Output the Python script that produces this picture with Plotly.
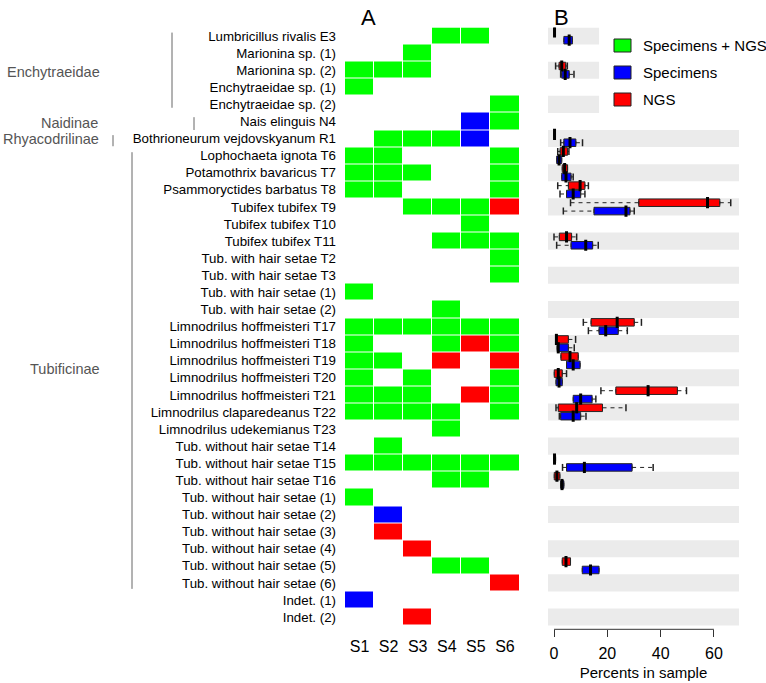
import plotly.graph_objects as go

W, H = 766, 683
FONT = "Liberation Sans, Arial, sans-serif"

# ---------------- data ----------------
row_labels = [
    "Lumbricillus rivalis E3", "Marionina sp. (1)", "Marionina sp. (2)",
    "Enchytraeidae sp. (1)", "Enchytraeidae sp. (2)", "Nais elinguis N4",
    "Bothrioneurum vejdovskyanum R1", "Lophochaeta ignota T6",
    "Potamothrix bavaricus T7", "Psammoryctides barbatus T8",
    "Tubifex tubifex T9", "Tubifex tubifex T10", "Tubifex tubifex T11",
    "Tub. with hair setae T2", "Tub. with hair setae T3",
    "Tub. with hair setae (1)", "Tub. with hair setae (2)",
    "Limnodrilus hoffmeisteri T17", "Limnodrilus hoffmeisteri T18",
    "Limnodrilus hoffmeisteri T19", "Limnodrilus hoffmeisteri T20",
    "Limnodrilus hoffmeisteri T21", "Limnodrilus claparedeanus T22",
    "Limnodrilus udekemianus T23", "Tub. without hair setae T14",
    "Tub. without hair setae T15", "Tub. without hair setae T16",
    "Tub. without hair setae (1)", "Tub. without hair setae (2)",
    "Tub. without hair setae (3)", "Tub. without hair setae (4)",
    "Tub. without hair setae (5)", "Tub. without hair setae (6)",
    "Indet. (1)", "Indet. (2)",
]
samples = ["S1", "S2", "S3", "S4", "S5", "S6"]

# '.' absent, 'G' specimens + NGS, 'B' specimens only, 'R' NGS only
presence = [
    "...GG.", "..G...", "GGG...", "G.....", ".....G", "....BG", ".GGGB.",
    "GG...G", "GGG..G", "GG...G", "..GGGR", "....G.", "...GGG", ".....G",
    ".....G", "G.....", "...G..", "GGGGGG", "G..GRG", "GG.R.R", "G.G..G",
    "GGG.RG", "GGGG.G", "...G..", ".G....", "GGGGGG", "...GG.", "G.....",
    ".B....", ".R....", "..R...", "...GG.", ".....R", "B.....", "..R...",
]

# Panel B: NGS percentages (box stats per row)
ngs_rows = [0, 2, 6, 7, 8, 9, 10, 12, 17, 18, 19, 20, 21, 22, 25, 26, 31]
ngs_low  = [0.0, 0.6, 0.0, 1.4, 3.1, 1.4, 6.2, 0.0, 11.0, 0.6, 2.6, 0.1, 17.6, 0.75, 0.0, 0.1, 3.1]
ngs_q1   = [0.0, 1.9, 0.0, 2.3, 3.1, 5.4, 31.8, 2.0, 13.9, 0.6, 2.6, 0.1, 23.2, 1.6, 0.0, 0.1, 3.1]
ngs_med  = [0.2, 2.9, 0.2, 3.5, 4.0, 9.8, 57.6, 4.7, 23.7, 0.9, 6.0, 1.6, 35.3, 8.5, 0.2, 1.1, 4.5]
ngs_q3   = [0.5, 4.4, 0.5, 5.1, 5.1, 11.6, 62.2, 6.6, 30.1, 5.4, 9.1, 3.1, 46.3, 18.2, 0.6, 2.2, 6.2]
ngs_high = [0.5, 5.0, 0.5, 5.6, 5.1, 12.9, 66.3, 8.5, 32.8, 8.1, 9.1, 4.7, 49.7, 27.0, 0.6, 2.2, 6.2]

# Panel B: Specimen percentages (box stats per row)
spe_rows = [0, 2, 6, 7, 8, 9, 10, 12, 17, 18, 19, 20, 21, 22, 25, 26, 31]
spe_low  = [3.7, 2.5, 2.5, 1.0, 2.9, 2.25, 3.5, 1.0, 12.9, 1.2, 4.7, 0.75, 7.2, 2.0, 3.2, 2.5, 10.6]
spe_q1   = [3.7, 2.9, 3.7, 1.0, 2.9, 4.7, 15.0, 6.4, 16.9, 1.2, 4.7, 0.75, 7.2, 2.5, 4.7, 2.5, 10.6]
spe_med  = [5.7, 4.2, 6.0, 1.9, 4.5, 7.2, 27.0, 11.9, 19.4, 1.6, 7.2, 1.9, 10.0, 7.2, 11.4, 3.0, 13.7]
spe_q3   = [6.9, 5.7, 8.2, 2.9, 6.4, 10.0, 28.5, 14.5, 24.1, 5.4, 9.8, 3.1, 14.3, 10.0, 29.3, 3.7, 16.9]
spe_high = [6.9, 7.5, 10.7, 2.9, 7.2, 11.6, 30.1, 16.6, 27.5, 7.6, 9.8, 3.1, 15.7, 12.0, 37.2, 3.7, 16.9]

x_ticks = [0, 20, 40, 60]

groups = ["Enchytraeidae", "Naidinae", "Rhyacodrilinae", "Tubificinae"]
group_label_row = [2.1, 5.1, 6.0, 19.5]
group_line_start = [-0.2, 4.75, 5.8, 6.8]
group_line_end = [4.2, 5.5, 6.45, 32.35]

legend_names = ["Specimens + NGS", "Specimens", "NGS"]
legend_colors = ["#00FF00", "#0000FF", "#FF0000"]

# ---------------- geometry helpers ----------------
ROW0, ROWH = 36.0, 17.09
def py(p):  # pixel y -> paper
    return 1 - p / H
def px(p):
    return p / W

n = len(row_labels)
y_top = ROW0 - ROWH / 2
y_bot = ROW0 + (n - 0.5) * ROWH
y_bot2 = 629.3
extra = (y_bot2 - y_bot) / ROWH

code = {".": None, "G": 1, "B": 2, "R": 3}
z = [[code[c] for c in r] for r in presence]

fig = go.Figure()

fig.add_trace(go.Heatmap(
    z=z, x=list(range(len(samples))), y=list(range(n)),
    zmin=0.5, zmax=3.5,
    colorscale=[[0, "#00FF00"], [1/3, "#00FF00"], [1/3, "#0000FF"], [2/3, "#0000FF"],
                [2/3, "#FF0000"], [1, "#FF0000"]],
    showscale=False, xgap=1, ygap=1, hoverinfo="skip",
    xaxis="x", yaxis="y",
))

OFF, BW = 0.245, 0.44

def add_series(rows, low, q1, med, q3, high, color, sign):
    pos = [r + sign * OFF for r in rows]
    fig.add_trace(go.Box(
        y=pos, q1=q1, median=med, q3=q3, lowerfence=q1, upperfence=q3,
        orientation="h", width=BW, fillcolor=color,
        line=dict(color="#262626", width=1), showlegend=False,
        hoverinfo="skip", xaxis="x2", yaxis="y2",
    ))
    wx, wy = [], []
    cx, cy = [], []
    for p, lo, a, b, hi in zip(pos, low, q1, q3, high):
        if lo < a:
            wx += [lo, a, None]; wy += [p, p, None]
            cx.append(lo); cy.append(p)
        if hi > b:
            wx += [b, hi, None]; wy += [p, p, None]
            cx.append(hi); cy.append(p)
    fig.add_trace(go.Scatter(
        x=wx, y=wy, mode="lines", line=dict(color="#222", width=1, dash="4px,4px"),
        showlegend=False, hoverinfo="skip", xaxis="x2", yaxis="y2",
    ))
    fig.add_trace(go.Scatter(
        x=cx, y=cy, mode="markers",
        marker=dict(symbol="line-ns", size=5, line=dict(color="#222", width=1.5)),
        showlegend=False, hoverinfo="skip", xaxis="x2", yaxis="y2",
    ))
    fig.add_trace(go.Scatter(
        x=med, y=pos, mode="markers",
        marker=dict(symbol="line-ns", size=8, line=dict(color="black", width=3)),
        showlegend=False, hoverinfo="skip", xaxis="x2", yaxis="y2",
    ))

add_series(ngs_rows, ngs_low, ngs_q1, ngs_med, ngs_q3, ngs_high, "#FF0000", -1)
add_series(spe_rows, spe_low, spe_q1, spe_med, spe_q3, spe_high, "#0000FF", +1)

XMIN, XMAX, XSHORT = -2.25, 69.4, 16.9

shapes = []
for i in range(0, n, 2):
    shapes.append(dict(type="rect", xref="x2", yref="y2", layer="below",
                       x0=XMIN, x1=(XSHORT if i < 6 else XMAX), y0=i - 0.5, y1=i + 0.5,
                       fillcolor="#EBEBEB", line=dict(width=0)))
# R-style x axis line for panel B
shapes.append(dict(type="line", xref="x2", yref="y2 domain", x0=x_ticks[0], x1=x_ticks[-1],
                   y0=0, y1=0, line=dict(color="#333", width=1)))

# group bracket lines
line_x = [172, 194, 113, 132]
for g, s, e, lx in zip(groups, group_line_start, group_line_end, line_x):
    shapes.append(dict(type="line", xref="paper", yref="y", x0=px(lx), x1=px(lx),
                       y0=s, y1=e, line=dict(color="#666", width=1)))

annotations = []
label_right = [102, 100, 101, 102]
for g, r, lr in zip(groups, group_label_row, label_right):
    annotations.append(dict(text=g, xref="paper", yref="y", x=px(lr), y=r,
                            xanchor="right", yanchor="middle", showarrow=False,
                            font=dict(size=14.5, color="#555", family=FONT)))

annotations.append(dict(text="A", xref="paper", yref="paper", x=px(368), y=py(17),
                        xanchor="center", yanchor="middle",
                        showarrow=False, font=dict(size=22, color="black", family=FONT)))
annotations.append(dict(text="B", xref="paper", yref="paper", x=px(561), y=py(17),
                        xanchor="center", yanchor="middle",
                        showarrow=False, font=dict(size=22, color="black", family=FONT)))

# legend
leg_y = [45.5, 72.5, 99.5]
for name, col, ly in zip(legend_names, legend_colors, leg_y):
    shapes.append(dict(type="rect", xref="paper", yref="paper",
                       x0=px(614), x1=px(631), y0=py(ly - 6.5), y1=py(ly + 6.5),
                       fillcolor=col, line=dict(color="#222", width=1)))
    annotations.append(dict(text=name, xref="paper", yref="paper", x=px(641), y=py(ly),
                            xanchor="left", yanchor="middle", showarrow=False,
                            font=dict(size=15, color="black", family=FONT)))

fig.update_layout(
    width=W, height=H, margin=dict(l=0, r=0, t=0, b=0),
    paper_bgcolor="white", plot_bgcolor="white",
    font=dict(family=FONT, color="black"),
    showlegend=False, boxmode="overlay",
    shapes=shapes, annotations=annotations,
    xaxis=dict(domain=[px(345), px(519.5)], range=[-0.5, len(samples) - 0.5],
               tickvals=list(range(len(samples))), ticktext=samples,
               ticks="", showgrid=False, zeroline=False, showline=False,
               tickfont=dict(size=16), ticklabelstandoff=9, anchor="y", fixedrange=True),
    yaxis=dict(domain=[py(y_bot), py(y_top)], range=[n - 0.5, -0.5],
               tickvals=list(range(n)), ticktext=row_labels,
               ticks="", showgrid=False, zeroline=False, showline=False,
               tickfont=dict(size=13.3), ticklabelstandoff=8, anchor="x", fixedrange=True),
    xaxis2=dict(domain=[px(548), px(739)], range=[XMIN, XMAX],
                tickvals=x_ticks, ticks="outside", ticklen=7, tickcolor="#333",
                showgrid=False, zeroline=False, showline=False,
                tickfont=dict(size=16), ticklabelstandoff=2, anchor="y2",
                title=dict(text="Percents in sample", font=dict(size=15), standoff=6)),
    yaxis2=dict(domain=[py(y_bot2), py(y_top)], range=[n - 0.5 + extra, -0.5],
                showticklabels=False, ticks="", showgrid=False, zeroline=False,
                showline=False, anchor="x2"),
)

fig.write_html("out.html", config={"displayModeBar": False},
               post_script="document.body.style.margin='0px';")
